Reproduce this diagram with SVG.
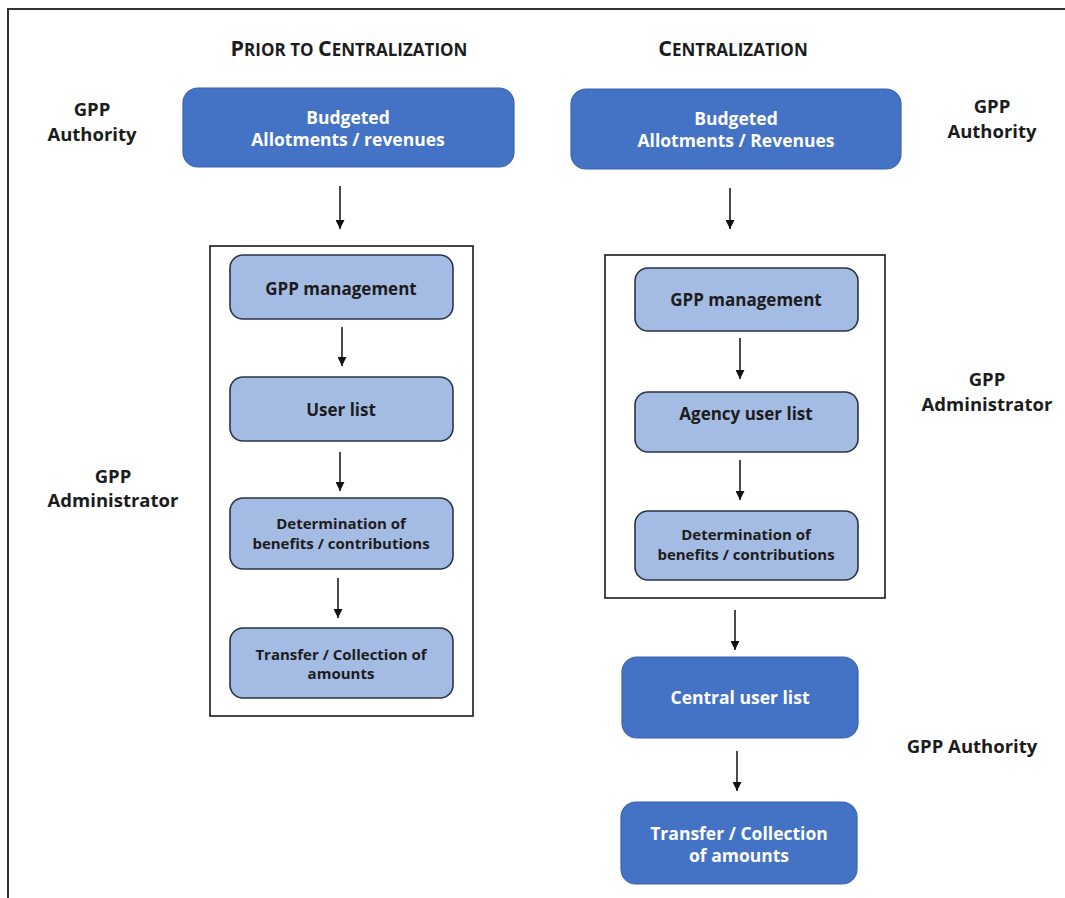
<svg xmlns="http://www.w3.org/2000/svg" width="1065" height="898" viewBox="0 0 1065 898">
<style>
.t{font-family:"Open Sans","Liberation Sans",sans-serif;font-weight:bold;text-anchor:middle}
.lbl{font-size:18.5px;fill:#1c1c1c}
.ttl{font-size:21.5px;fill:#1c1c1c}
.w{font-size:17.5px;fill:#ffffff}
.d{font-size:17px;fill:#1c1c1c}
.ds{font-size:15px;fill:#1c1c1c}
.dark{fill:#4472C4;stroke:#3b63ad;stroke-width:1.2}
.light{fill:#A4BBE3;stroke:#2b3445;stroke-width:1.6}
.frame{fill:none;stroke:#1a1a1a;stroke-width:1.6}
.conn{stroke:#111;stroke-width:1.5;fill:none;marker-end:url(#ah)}
</style>
<defs>
<marker id="ah" viewBox="0 0 10 10" refX="10" refY="5" markerWidth="9" markerHeight="9" markerUnits="userSpaceOnUse" orient="auto">
<path d="M0,0 L10,5 L0,10 z" fill="#111"/>
</marker>
</defs>
<rect width="1065" height="898" fill="#ffffff"/>
<path d="M8,898 L8,9 L1065,9" fill="none" stroke="#333" stroke-width="2"/>

<g id="titles">
<text class="t ttl" x="349" y="56">P<tspan font-size="17">RIOR TO </tspan>C<tspan font-size="17">ENTRALIZATION</tspan></text>
<text class="t ttl" x="733" y="56">C<tspan font-size="17">ENTRALIZATION</tspan></text>
</g>

<g id="labels">
<text class="t lbl" x="92" y="116">GPP</text>
<text class="t lbl" x="92" y="141">Authority</text>
<text class="t lbl" x="992" y="113">GPP</text>
<text class="t lbl" x="992" y="138">Authority</text>
<text class="t lbl" x="113" y="483">GPP</text>
<text class="t lbl" x="113" y="507">Administrator</text>
<text class="t lbl" x="987" y="386">GPP</text>
<text class="t lbl" x="987" y="411">Administrator</text>
<text class="t lbl" x="972" y="753">GPP Authority</text>
</g>

<g id="containers">
<rect class="frame" x="210" y="246" width="263" height="470"/>
<rect class="frame" x="605" y="255" width="280" height="343"/>
</g>

<g id="L_budget">
<rect class="dark" x="183" y="88" width="331" height="79" rx="15"/>
<text class="t w" x="348" y="124">Budgeted</text>
<text class="t w" x="348" y="146">Allotments / revenues</text>
</g>
<g id="L_mgmt">
<rect class="light" x="230" y="255" width="223" height="64" rx="13"/>
<text class="t d" x="341" y="295">GPP management</text>
</g>
<g id="L_users">
<rect class="light" x="230" y="377" width="223" height="64" rx="13"/>
<text class="t d" x="341" y="416">User list</text>
</g>
<g id="L_determ">
<rect class="light" x="230" y="498" width="223" height="71" rx="13"/>
<text class="t ds" x="341" y="529">Determination of</text>
<text class="t ds" x="341" y="549">benefits / contributions</text>
</g>
<g id="L_transfer">
<rect class="light" x="230" y="628" width="223" height="70" rx="13"/>
<text class="t ds" x="341" y="660">Transfer / Collection of</text>
<text class="t ds" x="341" y="679">amounts</text>
</g>

<g id="R_budget">
<rect class="dark" x="571" y="89" width="330" height="80" rx="15"/>
<text class="t w" x="736" y="125">Budgeted</text>
<text class="t w" x="736" y="147">Allotments / Revenues</text>
</g>
<g id="R_mgmt">
<rect class="light" x="635" y="268" width="223" height="63" rx="13"/>
<text class="t d" x="746" y="306">GPP management</text>
</g>
<g id="R_agency">
<rect class="light" x="635" y="392" width="223" height="60" rx="13"/>
<text class="t d" x="746" y="420">Agency user list</text>
</g>
<g id="R_determ">
<rect class="light" x="635" y="511" width="223" height="69" rx="13"/>
<text class="t ds" x="746" y="540">Determination of</text>
<text class="t ds" x="746" y="560">benefits / contributions</text>
</g>
<g id="R_central">
<rect class="dark" x="622" y="657" width="236" height="81" rx="15"/>
<text class="t w" x="740" y="704">Central user list</text>
</g>
<g id="R_transfer">
<rect class="dark" x="621" y="802" width="236" height="82" rx="15"/>
<text class="t w" x="739" y="840">Transfer / Collection</text>
<text class="t w" x="739" y="862">of amounts</text>
</g>

<g id="connectors">
<line class="conn" x1="340" y1="186" x2="340" y2="229"/>
<line class="conn" x1="730" y1="188" x2="730" y2="229"/>
<line class="conn" x1="342" y1="327" x2="342" y2="366"/>
<line class="conn" x1="340" y1="452" x2="340" y2="491"/>
<line class="conn" x1="338" y1="578" x2="338" y2="618"/>
<line class="conn" x1="740" y1="338" x2="740" y2="379"/>
<line class="conn" x1="740" y1="460" x2="740" y2="500"/>
<line class="conn" x1="735" y1="610" x2="735" y2="650"/>
<line class="conn" x1="737" y1="751" x2="737" y2="791"/>
</g>
</svg>
